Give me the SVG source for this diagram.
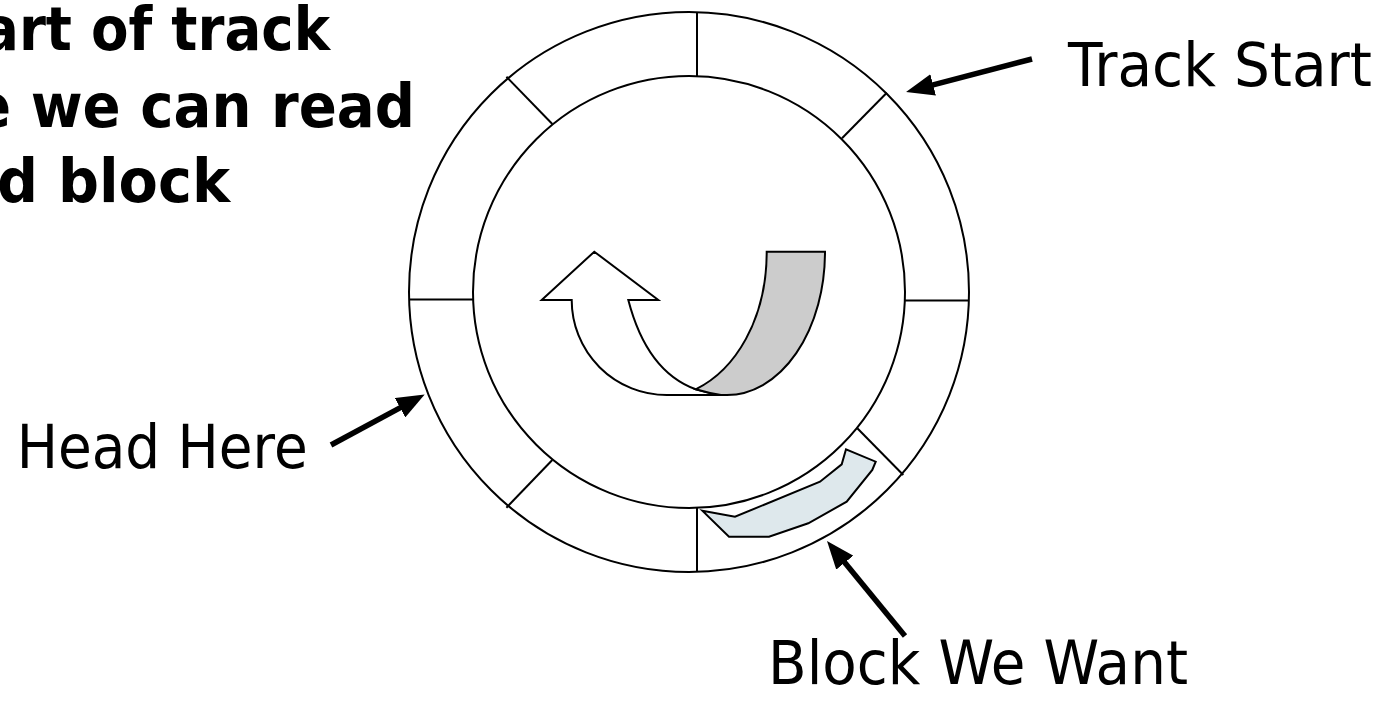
<svg xmlns="http://www.w3.org/2000/svg" width="1385" height="712" viewBox="0 0 1385 712">
<defs>
<style>
.ln{fill:none;stroke:#000;stroke-width:2}
.sh{stroke:#000;stroke-width:2;stroke-linejoin:miter}
.lbl{font-family:"DejaVu Sans","Liberation Sans",sans-serif;font-size:61px;fill:#000}
.ttl{font-family:"DejaVu Sans","Liberation Sans",sans-serif;font-size:60px;font-weight:bold;fill:#000}
.arr{fill:none;stroke:#000;stroke-width:5.5}
</style>
<marker id="ah" markerUnits="userSpaceOnUse" viewBox="0 0 28 22" refX="2" refY="11" markerWidth="28" markerHeight="22" orient="auto">
<path d="M0,0 L28,11 L0,22 Z" fill="#000"/>
</marker>
</defs>
<rect width="1385" height="712" fill="#fff"/>
<g id="title">
<text class="ttl" x="-18" y="50" textLength="348" lengthAdjust="spacingAndGlyphs">art of track</text>
<text class="ttl" x="-27" y="126.5" textLength="442" lengthAdjust="spacingAndGlyphs">e we can read</text>
<text class="ttl" x="-3" y="201.5" textLength="233" lengthAdjust="spacingAndGlyphs">d block</text>
</g>
<g id="disk">
<circle class="ln" cx="689" cy="292" r="280"/>
<circle class="ln" cx="689" cy="292" r="216"/>
<line class="ln" x1="697" y1="12" x2="697" y2="76"/>
<line class="ln" x1="697" y1="508" x2="697" y2="572"/>
<line class="ln" x1="409" y1="299.5" x2="473" y2="299.5"/>
<line class="ln" x1="905" y1="300.5" x2="969" y2="300.5"/>
<line class="ln" x1="506.4" y1="76.7" x2="552.3" y2="124"/>
<line class="ln" x1="886.8" y1="92.7" x2="842" y2="138.3"/>
<line class="ln" x1="552.3" y1="460" x2="506.4" y2="507.7"/>
<line class="ln" x1="857.3" y1="428.3" x2="903.3" y2="475"/>
</g>
<g id="rotation">
<path class="sh" fill="#fff" d="M541.7,300 L594.3,251.7 L658.3,300 L628.3,300 C640,345 662,377 695.7,389.3 Q708,393 721,395 L666.7,395 A95,95 0 0 1 571.7,300 Z"/>
<path class="sh" fill="#cccccc" d="M766.7,251.7 L825,251.7 A98,143 0 0 1 726.7,395 L721,395 Q708,393 695.7,389.3 C735,370 766.7,320 766.7,251.7 Z"/>
</g>
<g id="block">
<polygon class="sh" fill="#dee8ec" stroke-width="1.5" points="702.3,510.7 735,516.7 820,481.7 841.7,464.3 846,449.3 875.7,461.7 872.3,470 846.7,501.7 808.3,523.3 769,536.7 729,536.7"/>
</g>
<g id="label-track-start">
<text class="lbl" x="1068" y="86" textLength="304" lengthAdjust="spacingAndGlyphs">Track Start</text>
</g>
<g id="label-head-here">
<text class="lbl" x="16.7" y="468.3" textLength="291" lengthAdjust="spacingAndGlyphs">Head Here</text>
</g>
<g id="label-block-we-want">
<text class="lbl" x="768" y="684" textLength="420" lengthAdjust="spacingAndGlyphs">Block We Want</text>
</g>
<g id="connectors">
<line class="arr" x1="1032" y1="59" x2="931.2" y2="85.4" marker-end="url(#ah)"/>
<line class="arr" x1="331" y1="445" x2="401.8" y2="406.8" marker-end="url(#ah)"/>
<line class="arr" x1="905" y1="636" x2="843.5" y2="561.1" marker-end="url(#ah)"/>
</g>
</svg>
